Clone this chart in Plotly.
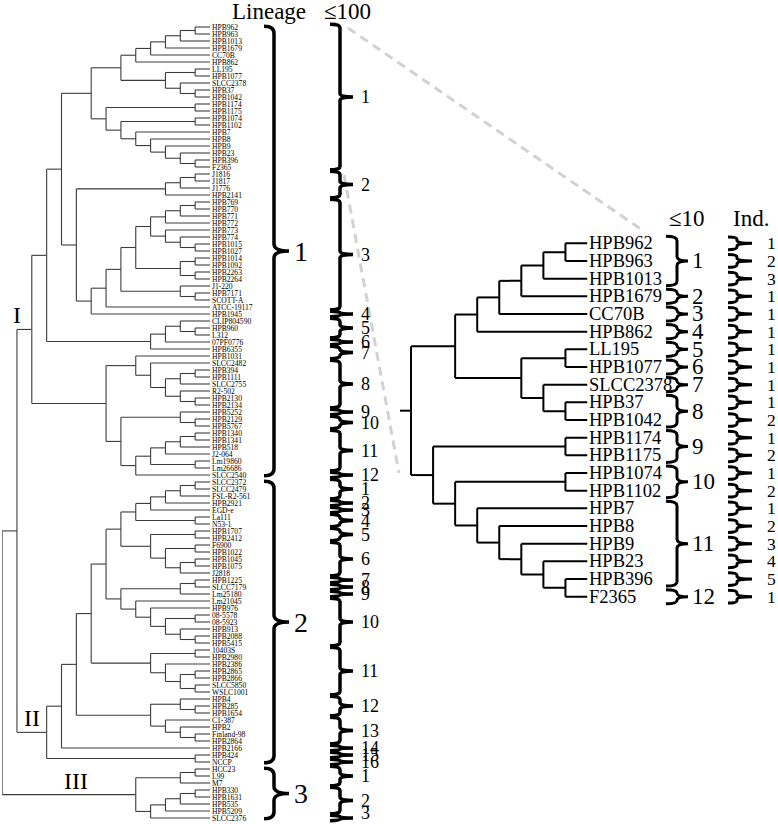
import plotly.graph_objects as go

W, H = 778, 824

# ---------------- DATA ----------------
# Lineage I – SNP cluster shown enlarged on the right
a1 = ((((("HPB962", "HPB963"), "HPB1013"), "HPB1679"), "CC70B"), "HPB862")
b1 = (("LL195", "HPB1077"), ("SLCC2378", ("HPB37", "HPB1042")))
c1 = ("HPB7", ("HPB8", ("HPB9", ("HPB23", ("HPB396", "F2365")))))
t7 = (("HPB1174", "HPB1175"), (("HPB1074", "HPB1102"), c1))
clade_zoom = ((a1, b1), t7)

j_grp = ((("J1816", "J1817"), "J1776"), "HPB2141")
x4 = (((("HPB769", "HPB770"), "HPB771"), "HPB772"),
      ("HPB773", ("HPB774", ("HPB1015", "HPB1027"))))
x5 = (x4, (("HPB1014", "HPB1092"), ("HPB2263", "HPB2264")))
x6 = (x5, ("J1-220", ("HPB7171", "SCOTT-A")))
x8 = ((x6, "ATCC-19117"), "HPB1945")
q4 = ((("CLIP804590", ("HPB960", "L312")), "07PF0776"), "HPB6355")
b_top = ("HPB1031", ("SLCC2482", ((("HPB394", "HPB1111"), "SLCC2755"),
                                  ("R2-502", ("HPB2130", "HPB2134")))))
lm_h2 = (("HPB1340", "HPB1341"), "HPB518")
lm_h4 = ((lm_h2, "J2-064"), ("Lm19860", "Lm26686"))
b_bot = (("HPB5252", ("HPB2129", "HPB5767")), (lm_h4, "SLCC2540"))
lineage_I = (((clade_zoom, (j_grp, x8)), q4), (b_top, b_bot))

# Lineage II
l2a = (((("SLCC2372", "SLCC2479"), "FSL-R2-561"), "HPB2921"), "EGD-e")
l2b = (("HPB1707", "HPB2412"), (("F6900", "HPB1022"), (("HPB1045", "HPB1075"), "J2818")))
l2c = ((("HPB1225", "SLCC7179"), "Lm25180"),
       ("Lm21045", ("HPB976", (("08-5578", "08-5923"), ("HPB913", ("HPB2088", "HPB5415"))))))
l2d = (("10403S", "HPB2980"), ("HPB2386", (("HPB2865", "HPB2866"), ("SLCC5850", "WSLC1001"))))
l2e = (("HPB4", ("HPB285", "HPB1654")), ("C1-387", ("HPB2", ("Finland-98", "HPB2864"))))
l2_h5 = (l2a, ("La111", "N53-1"))
l2_h6 = (l2_h5, l2b)
l2_h7 = (l2_h6, l2c)
l2_h8 = (l2_h7, l2d)
l2_h9 = (l2_h8, l2e)
lineage_II = ((l2_h9, "HPB2166"), ("HPB424", "NCCP"))

# Lineage III
lineage_III = ((("HCC23", "L99"), "M7"),
               (((("HPB330", "HPB1631"), "HPB535"), "HPB5209"), "SLCC2376"))

lineage_I_II = (lineage_I, lineage_II)
tree_left = (lineage_I_II, lineage_III)
tree_right = clade_zoom

lineage_labels = ["1", "2", "3"]
lineage_sizes = [65, 41, 8]
snp100_sizes = [[21, 4, 16, 1, 3, 1, 2, 7, 1, 2, 6, 1],
                [3, 1, 1, 2, 2, 5, 1, 1, 1, 7, 7, 3, 4, 1, 1, 1],
                [3, 4, 1]]
snp10_sizes = [3, 1, 1, 1, 1, 1, 1, 2, 2, 2, 5, 1]
ind_labels = ["1", "2", "3", "1", "1", "1", "1", "1", "1", "1", "2",
              "1", "2", "1", "2", "1", "2", "3", "4", "5", "1"]
roman = ["I", "II", "III"]

# ---------------- LAYOUT HELPERS ----------------
FONT = "Liberation Serif, Times New Roman, Times, serif"


def build(tree):
    xs, ys, leaves, pos = [], [], [], {}

    def rec(node):
        if isinstance(node, str):
            i = len(leaves)
            leaves.append(node)
            return float(i), 0
        kids = [rec(c) for c in node]
        h = 1 + max(k[1] for k in kids)
        y = sum(k[0] for k in kids) / len(kids)
        yk = [k[0] for k in kids]
        xs.extend([h, h, None])
        ys.extend([min(yk), max(yk), None])
        for cy, ch in kids:
            xs.extend([h, ch, None])
            ys.extend([cy, cy, None])
        pos[id(node)] = (y, h)
        return y, h

    ry, rh = rec(tree)
    return xs, ys, leaves, pos, ry, rh


lx, ly, lleaves, lpos, lroot_y, lroot_h = build(tree_left)
rx, ry_, rleaves, rpos, rroot_y, rroot_h = build(tree_right)
# short stem at the root of the enlarged tree
rx.extend([rroot_h, rroot_h + 0.5, None])
ry_.extend([rroot_y, rroot_y, None])

# pixel geometry of the two leaf columns
L_TOP, L_STEP = 27.0, 7.0
R_TOP, R_STEP = 243.3, 17.67
L_LEAF_X, L_ROOT_X = 210.0, 2.1
R_LEAF_X, R_STEM_X = 587.5, 400.0

fig = go.Figure()
fig.add_trace(go.Scatter(x=lx, y=ly, mode="lines", xaxis="x", yaxis="y",
                         line=dict(color="#3c3c3c", width=1.1), hoverinfo="skip"))
fig.add_trace(go.Scatter(x=rx, y=ry_, mode="lines", xaxis="x3", yaxis="y3",
                         line=dict(color="black", width=2), hoverinfo="skip"))

ann = []
shapes = []

for i, name in enumerate(lleaves):
    ann.append(dict(x=0, y=i, xref="x", yref="y", text=name, showarrow=False,
                    xanchor="left", yanchor="middle", xshift=1, borderpad=0,
                    font=dict(family=FONT, size=7.6, color="black")))
for i, name in enumerate(rleaves):
    ann.append(dict(x=0, y=i, xref="x3", yref="y3", text=name, showarrow=False,
                    xanchor="left", yanchor="middle", xshift=0, borderpad=0,
                    font=dict(family=FONT, size=18.5, color="black")))


def brace(xv_px, y0, y1, hook, tick, d, yref, width):
    xv = xv_px / W
    xh = (xv_px - hook) / W
    xt = (xv_px + tick) / W
    ym = (y0 + y1) / 2
    d = min(d, (y1 - y0) / 4)
    p = (f"M{xh},{y0} Q{xv},{y0} {xv},{y0 + d} L{xv},{ym - d} "
         f"Q{xv},{ym} {xt},{ym} M{xt},{ym} Q{xv},{ym} {xv},{ym + d} "
         f"L{xv},{y1 - d} Q{xv},{y1} {xh},{y1}")
    shapes.append(dict(type="path", path=p, xref="paper", yref=yref,
                       line=dict(color="black", width=width)))
    return ym


def label(xpx, y, yref, text, size, top, step):
    # keep a label that sits on the bottom edge inside the page
    pix = top + y * step
    shift = min(0.0, H - 1 - (pix + 0.55 * size))
    ann.append(dict(x=xpx / W, y=y, xref="paper", yref=yref, text=text,
                    showarrow=False, xanchor="left", yanchor="middle", borderpad=0,
                    yshift=-shift, font=dict(family=FONT, size=size, color="black")))


# lineage brackets and <=100 brackets (left)
start = 0
for lab, n, subs in zip(lineage_labels, lineage_sizes, snp100_sizes):
    ym = brace(274, start - 0.12, start + n - 1 + 0.12, 10, 15, 1.0, "y", 3.5)
    label(293, ym, "y", lab, 28, L_TOP, L_STEP)
    s = start
    for k, m in enumerate(subs):
        ym = brace(340, s - 0.38, s + m - 1 + 0.38, 10, 13, 0.5, "y", 3.5)
        label(360, ym, "y", str(k + 1), 18, L_TOP, L_STEP)
        s += m
    start += n

# <=10 brackets and individual brackets (right)
s = 0
for k, m in enumerate(snp10_sizes):
    ym = brace(677, s - 0.4, s + m - 1 + 0.4, 11, 11, 0.25, "y3", 3)
    label(691, ym, "y3", str(k + 1), 23, R_TOP, R_STEP)
    s += m
for i, lab in enumerate(ind_labels):
    brace(737, i - 0.36, i + 0.36, 9, 15, 0.15, "y3", 3)
    label(766, i, "y3", lab, 17.5, R_TOP, R_STEP)

# lineage roman numerals, placed above their branches
lin_nodes = [lineage_I, lineage_II, lineage_III]
h_I_II = lpos[id(lineage_I_II)][1]
parent_h = [h_I_II, h_I_II, lroot_h]
for txt, node, ph, frac in zip(roman, lin_nodes, parent_h, [0.0, 0.5, 0.55]):
    y, h = lpos[id(node)]
    ann.append(dict(x=ph - frac * (ph - h), y=y, xref="x", yref="y", text=txt,
                    showarrow=False, xanchor="center", yanchor="bottom", yshift=-1,
                    font=dict(family=FONT, size=24, color="black")))

# headers
for txt, xp, yp in [("Lineage", 269, 12), ("≤100", 347, 12), ("≤10", 687, 219), ("Ind.", 751, 219)]:
    ann.append(dict(x=xp / W, y=1 - yp / H, xref="paper", yref="paper", text=txt,
                    showarrow=False, xanchor="center", yanchor="middle",
                    font=dict(family=FONT, size=23, color="black")))

# dashed zoom connectors (<=100 group 1 of lineage 1  ->  enlarged tree)
for (x0, y0, x1, y1) in [(348, 28, 645, 232), (344, 175, 399, 473)]:
    shapes.append(dict(type="line", xref="paper", yref="paper",
                       x0=x0 / W, y0=1 - y0 / H, x1=x1 / W, y1=1 - y1 / H,
                       line=dict(color="#d2d2d2", width=3, dash="9px,6px"), layer="below"))

fig.update_layout(
    width=W, height=H, margin=dict(l=0, r=0, t=0, b=0),
    paper_bgcolor="white", plot_bgcolor="rgba(0,0,0,0)", showlegend=False,
    font=dict(family=FONT),
    xaxis=dict(domain=[L_ROOT_X / W, L_LEAF_X / W], range=[lroot_h, 0], visible=False,
               anchor="y", fixedrange=True),
    yaxis=dict(domain=[0, 1], range=[(H - L_TOP) / L_STEP, -L_TOP / L_STEP], visible=False,
               anchor="x", fixedrange=True),
    xaxis3=dict(domain=[R_STEM_X / W, R_LEAF_X / W], range=[rroot_h + 0.5, 0], visible=False,
                anchor="y3", fixedrange=True),
    yaxis3=dict(domain=[0, 1], range=[(H - R_TOP) / R_STEP, -R_TOP / R_STEP], visible=False,
                anchor="x3", fixedrange=True),
    annotations=ann, shapes=shapes,
)

fig.write_html("out.html", config={"displayModeBar": False},
               post_script="document.body.style.margin='0px';")
